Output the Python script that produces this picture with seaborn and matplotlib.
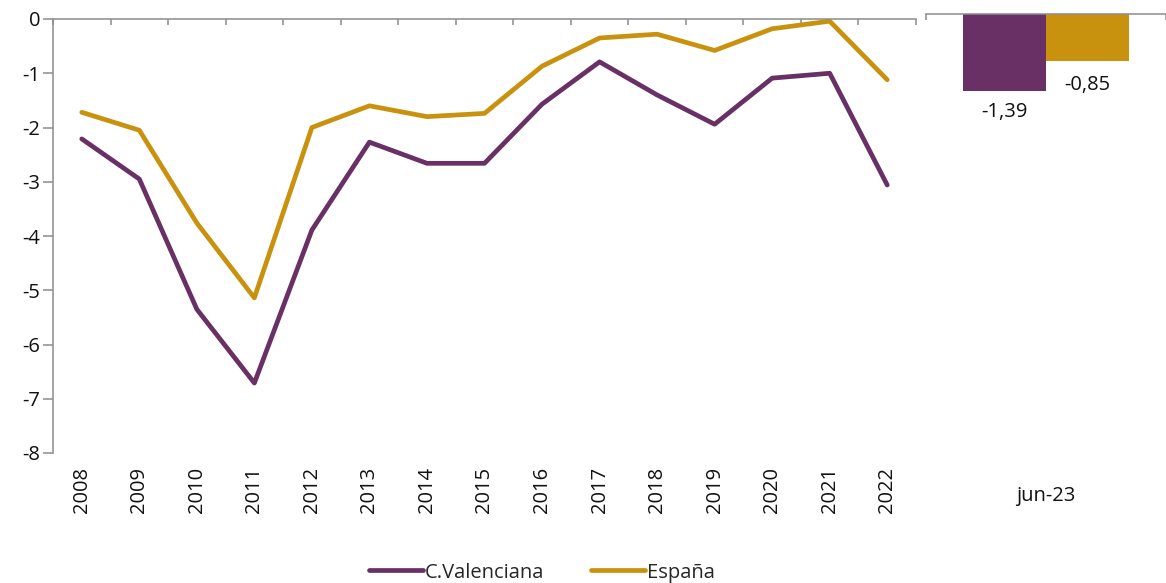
import numpy as np
import pandas as pd
import matplotlib
matplotlib.use("Agg")
import matplotlib.pyplot as plt
import seaborn as sns

years = [str(y) for y in range(2008, 2023)]
valenciana = [-2.21, -2.95, -5.35, -6.71, -3.89, -2.27, -2.66, -2.66,
              -1.57, -0.79, -1.40, -1.94, -1.09, -1.00, -3.06]
espana = [-1.72, -2.05, -3.76, -5.14, -2.00, -1.60, -1.80, -1.74,
          -0.87, -0.35, -0.28, -0.58, -0.18, -0.04, -1.12]
series_names = ["C.Valenciana", "España"]
bar_period = ["jun-23"]
bar_values = [-1.39, -0.85]
y_ticks = [0, -1, -2, -3, -4, -5, -6, -7, -8]

PURPLE = "#683064"
GOLD = "#C9920E"
SPINE = "#8c8c8c"
TXT = "#111111"

sns.set_theme(style="white")
plt.rcParams["font.family"] = ["Open Sans", "DejaVu Sans"]
plt.rcParams["axes.unicode_minus"] = False
FS = 14.5

lines_df = pd.DataFrame({
    "year": years * 2,
    "value": valenciana + espana,
    "serie": [series_names[0]] * len(years) + [series_names[1]] * len(years),
})
bars_df = pd.DataFrame({
    "period": bar_period * 2,
    "value": bar_values,
    "serie": series_names,
})
palette = {series_names[0]: PURPLE, series_names[1]: GOLD}

fig = plt.figure(figsize=(11.66, 5.83), dpi=100)
ax = fig.add_axes([53 / 1166, 1 - 453 / 583, (916 - 53) / 1166, (453 - 19) / 583])
ax2 = fig.add_axes([926 / 1166, 1 - 458 / 583, (1166 - 926) / 1166, (458 - 14) / 583])

# --- left: lines ---
sns.lineplot(data=lines_df, x="year", y="value", hue="serie", palette=palette,
             linewidth=3.4, ax=ax, sort=False, legend=True)
ax.set_xlim(-0.5, len(years) - 0.5)
ax.set_ylim(-8, 0)
ax.set_yticks(y_ticks)
ax.set_yticklabels([str(t) for t in y_ticks], fontsize=FS, color=TXT)
ax.set_xticks(range(len(years)))
ax.set_xticklabels(years, rotation=90, fontsize=FS, color=TXT)
ax.set_xticks(np.arange(-0.5, len(years)), minor=True)
ax.tick_params(axis="x", which="major", length=0, pad=10)
ax.tick_params(axis="x", which="minor", top=True, bottom=False, direction="in",
               length=4.5, width=1.1, color=SPINE)
ax.tick_params(axis="y", left=True, direction="out", length=7, width=1.1,
               color=SPINE, pad=2)
ax.set_xlabel("")
ax.set_ylabel("")
for s in ["bottom", "right"]:
    ax.spines[s].set_visible(False)
for s in ["top", "left"]:
    ax.spines[s].set_color(SPINE)
    ax.spines[s].set_linewidth(1.1)
handles, labels = ax.get_legend_handles_labels()
ax.get_legend().remove()

# --- right: bars ---
sns.barplot(data=bars_df, x="period", y="value", hue="serie", palette=palette,
            width=0.69, ax=ax2, legend=False, saturation=1, linewidth=0)
ax2.set_xlim(-0.5, 0.5)
ax2.set_ylim(-8, 0)
ax2.set_yticks([])
ax2.set_xlabel("")
ax2.set_ylabel("")
ax2.set_xticks([0])
ax2.set_xticklabels(bar_period, fontsize=FS, color=TXT)
ax2.set_xticks([-0.5, 0.5], minor=True)
ax2.tick_params(axis="x", which="major", length=0, pad=20)
ax2.tick_params(axis="x", which="minor", top=True, bottom=False, direction="in",
                length=4.5, width=1.1, color=SPINE)
for s in ["bottom", "right", "left"]:
    ax2.spines[s].set_visible(False)
ax2.spines["top"].set_color(SPINE)
ax2.spines["top"].set_linewidth(1.1)
offsets = [-21, -24]
for patch, val, off in zip(ax2.patches, bar_values, offsets):
    ax2.annotate(f"{val:.2f}".replace(".", ","),
                 (patch.get_x() + patch.get_width() / 2, val),
                 xytext=(0, off * 0.72), textcoords="offset points",
                 ha="center", va="center", fontsize=FS, color=TXT)

fig.legend(handles, labels, loc="center", bbox_to_anchor=(542 / 1166, 0.018),
           ncol=2, frameon=False, fontsize=FS, handlelength=2.7,
           handletextpad=0.1, columnspacing=2.3)

fig.savefig("out.png", dpi=100)
